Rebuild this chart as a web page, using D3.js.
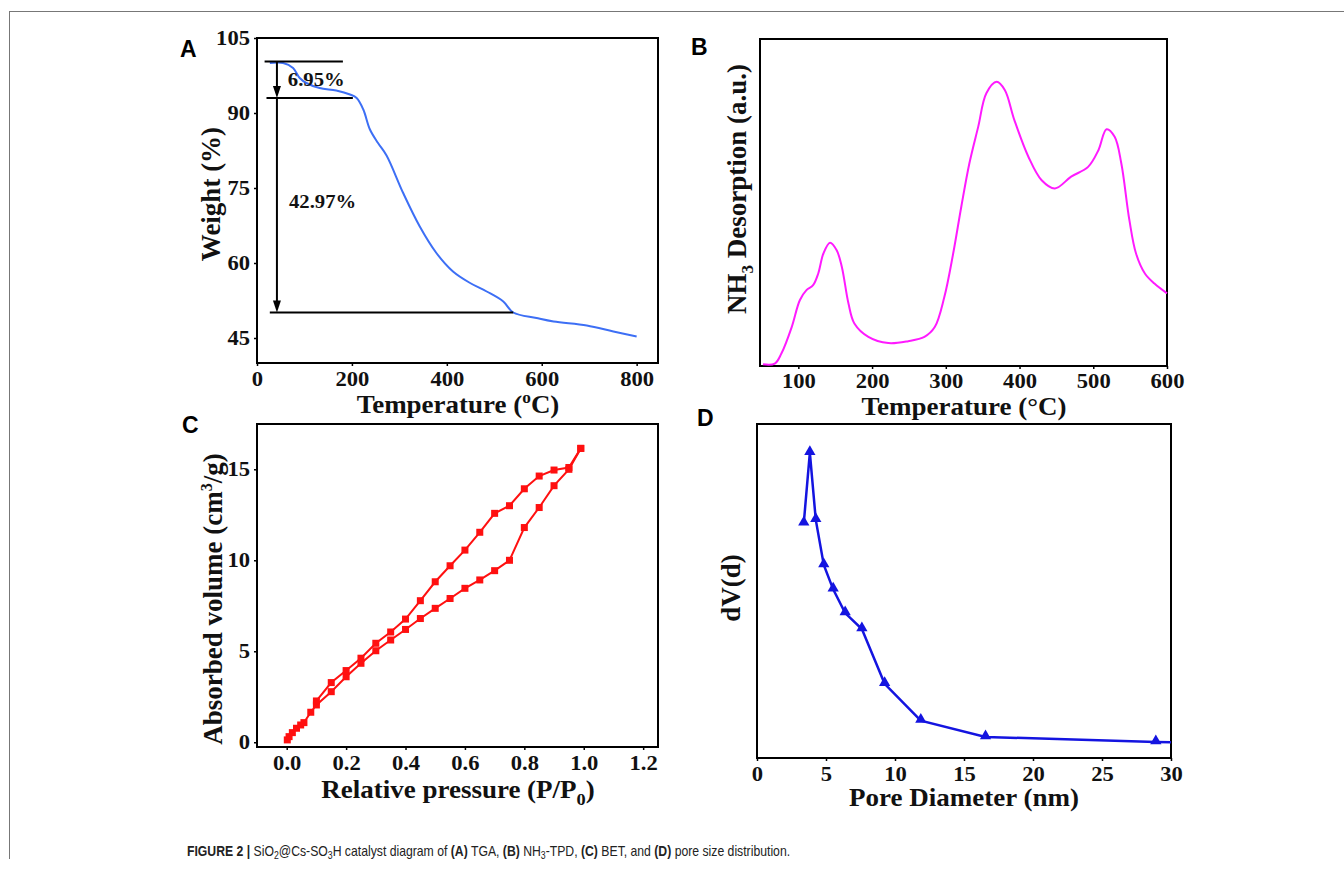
<!DOCTYPE html>
<html><head><meta charset="utf-8">
<script src="https://cdn.jsdelivr.net/npm/d3@7"></script>
<style>body{margin:0;background:#fff;} svg{display:block}</style>
</head><body>
<svg id="c" width="1344" height="878"></svg>
<script>
// ---------- Panel A : TGA ----------
const tgaTemp   = [27, 55, 76, 90, 104, 132, 167, 196, 210, 224, 238, 255, 273, 308, 343, 378, 413, 449, 484, 519, 540, 589, 625, 695, 751, 800];
const tgaWeight = [100, 100, 99, 97, 96, 95, 94.5, 93.7, 93, 90.7, 86.7, 84, 81.5, 74, 67.3, 62, 58.3, 56, 54.3, 52.3, 50.1, 49, 48.3, 47.5, 46.3, 45.3];
const tgaXTicks = [0, 200, 400, 600, 800];
const tgaYTicks = [45, 60, 75, 90, 105];
// annotation levels (weight %) and their temperature spans
const tgaLevels    = [100.3, 93, 50.1];
const tgaLevelFrom = [16, 20, 27];
const tgaLevelTo   = [181, 202, 540];
const tgaArrowT    = 42;
const tgaLabels    = ["6.95%", "42.97%"];
const tgaLabelT    = [65, 67.5];
const tgaLabelW    = [95.3, 71];

// ---------- Panel B : NH3-TPD ----------
const tpdTemp = [52, 68, 77, 91, 102, 111, 120, 127, 134, 143, 152, 159, 168, 176, 195, 222, 249, 271, 285, 298, 310, 321, 332, 344, 355, 369, 380, 393, 412, 430, 448, 470, 493, 507, 518, 529, 538, 549, 558, 570, 583, 600];
const tpdSignal = [0.005, 0.007, 0.038, 0.119, 0.201, 0.232, 0.247, 0.283, 0.344, 0.377, 0.354, 0.303, 0.191, 0.130, 0.089, 0.070, 0.076, 0.089, 0.119, 0.211, 0.344, 0.487, 0.620, 0.732, 0.834, 0.869, 0.844, 0.752, 0.640, 0.568, 0.543, 0.579, 0.609, 0.660, 0.724, 0.701, 0.620, 0.446, 0.344, 0.283, 0.252, 0.222];
const tpdXTicks = [100, 200, 300, 400, 500, 600];

// ---------- Panel C : BET isotherm ----------
const adsP = [0.002, 0.008, 0.019, 0.033, 0.047, 0.058, 0.081, 0.1, 0.15, 0.2, 0.25, 0.3, 0.35, 0.4, 0.45, 0.5, 0.55, 0.6, 0.65, 0.7, 0.75, 0.8, 0.85, 0.9, 0.95, 0.99];
const adsV = [0.13, 0.31, 0.53, 0.77, 0.95, 1.08, 1.65, 2.05, 2.78, 3.6, 4.34, 5.03, 5.62, 6.2, 6.8, 7.36, 7.9, 8.46, 8.92, 9.43, 10.0, 11.8, 12.9, 14.1, 15.0, 16.15];
const desP = [0.99, 0.95, 0.9, 0.85, 0.8, 0.75, 0.7, 0.65, 0.6, 0.55, 0.5, 0.45, 0.4, 0.35, 0.3, 0.25, 0.2, 0.15, 0.1];
const desV = [16.15, 15.1, 14.96, 14.63, 13.93, 13.0, 12.58, 11.54, 10.56, 9.7, 8.82, 7.78, 6.77, 6.06, 5.44, 4.62, 3.94, 3.28, 2.27];
const betXTicks = [0.0, 0.2, 0.4, 0.6, 0.8, 1.0, 1.2];
const betYTicks = [0, 5, 10, 15];

// ---------- Panel D : pore size distribution ----------
const poreD  = [3.39, 3.83, 4.26, 4.84, 5.52, 6.39, 7.6, 9.25, 11.87, 16.56, 28.9, 30.3];
const poreDV = [0.703, 0.914, 0.713, 0.578, 0.505, 0.434, 0.386, 0.222, 0.112, 0.063, 0.048, 0.047];
const poreXTicks = [0, 5, 10, 15, 20, 25, 30];

const SERIF = "'Liberation Serif','Times New Roman',serif";
const SANS = "'Liberation Sans',Arial,sans-serif";
const STRETCH = 1.13;
const svg = d3.select("#c");
svg.append("rect").attr("width", 1344).attr("height", 878).attr("fill", "#fff");
// page frame lines
svg.append("line").attr("x1", 9).attr("x2", 1344).attr("y1", 11.5).attr("y2", 11.5).attr("stroke", "#777").attr("stroke-width", 1);
svg.append("line").attr("x1", 9.5).attr("x2", 9.5).attr("y1", 11).attr("y2", 859).attr("stroke", "#777").attr("stroke-width", 1);

let clipId = 0;
function styleTicks(sel, isY) {
  sel.selectAll(".tick line").attr("stroke", "#000").attr("stroke-width", 1.5);
  sel.selectAll(".tick text").attr("font-family", SERIF).attr("font-weight", "bold")
    .attr("font-size", 20).attr("fill", "#111")
    .each(function() {
      const t = d3.select(this);
      if (isY) t.attr("x", (+t.attr("x")) / STRETCH);
      t.attr("transform", `scale(${STRETCH},1)`);
    });
}
function panel(cfg) {
  const g = svg.append("g");
  const x = d3.scaleLinear().domain(cfg.xd).range([cfg.l, cfg.r]);
  const y = d3.scaleLinear().domain(cfg.yd).range([cfg.b, cfg.t]);
  const id = "clip" + (clipId++);
  g.append("clipPath").attr("id", id).append("rect")
    .attr("x", cfg.l).attr("y", cfg.t).attr("width", cfg.r - cfg.l).attr("height", cfg.b - cfg.t);
  const xa = g.append("g").attr("transform", `translate(0,${cfg.b})`)
    .call(d3.axisBottom(x).tickValues(cfg.xt).tickSize(3).tickPadding(cfg.pad || 6).tickFormat(cfg.xf || d3.format("d")));
  xa.select(".domain").remove();
  styleTicks(xa, false);
  if (cfg.yt) {
    const ya = g.append("g").attr("transform", `translate(${cfg.l},0)`)
      .call(d3.axisLeft(y).tickValues(cfg.yt).tickSize(3).tickPadding(4).tickFormat(d3.format("d")));
    ya.select(".domain").remove();
    styleTicks(ya, true);
  }
  g.append("rect").attr("x", cfg.l).attr("y", cfg.t).attr("width", cfg.r - cfg.l).attr("height", cfg.b - cfg.t)
    .attr("fill", "none").attr("stroke", "#000").attr("stroke-width", 2);
  g.append("text").attr("x", cfg.lx).attr("y", cfg.ly).text(cfg.letter)
    .attr("font-family", SANS).attr("font-weight", "bold").attr("font-size", 23).attr("fill", "#000");
  return {g, x, y, clip: `url(#${id})`};
}

function title(g, xx, yy, parts, rot) {
  const t = g.append("text").attr("font-family", SERIF).attr("font-weight", "bold")
    .attr("font-size", rot ? 27 : 25)
    .attr("fill", "#111").attr("text-anchor", "middle")
    .attr("transform", rot ? `translate(${xx},${yy}) rotate(-90)` : `translate(${xx},${yy}) scale(1.08,1)`);
  parts.forEach(p => {
    const s = t.append("tspan").text(p.t);
    if (p.sub) s.attr("font-size", 17).attr("dy", 7);
    if (p.sup) s.attr("font-size", 16).attr("dy", -10);
    if (p.back) s.attr("dy", p.back);
  });
  return t;
}

// ----- A -----
{
  const P = panel({xd: [0, 845], yd: [40, 105], l: 257, r: 658, t: 38, b: 363, xt: tgaXTicks, yt: tgaYTicks, letter: "A", lx: 180, ly: 57});
  const line = d3.line().x(d => P.x(d[0])).y(d => P.y(d[1])).curve(d3.curveCatmullRom);
  P.g.append("path").datum(tgaTemp.map((t, i) => [t, tgaWeight[i]])).attr("d", line)
    .attr("fill", "none").attr("stroke", "#3d6ff5").attr("stroke-width", 2);
  tgaLevels.forEach((w, i) => {
    P.g.append("line").attr("x1", P.x(tgaLevelFrom[i])).attr("x2", P.x(tgaLevelTo[i]))
      .attr("y1", P.y(w)).attr("y2", P.y(w)).attr("stroke", "#000").attr("stroke-width", 2);
  });
  const ax = P.x(tgaArrowT);
  [[tgaLevels[0], tgaLevels[1]], [tgaLevels[1], tgaLevels[2]]].forEach(([a, b]) => {
    const y0 = P.y(a), y1 = P.y(b);
    P.g.append("line").attr("x1", ax).attr("x2", ax).attr("y1", y0).attr("y2", y1 - 8)
      .attr("stroke", "#000").attr("stroke-width", 2);
    P.g.append("path").attr("d", `M${ax - 4},${y1 - 12} L${ax + 4},${y1 - 12} L${ax},${y1} Z`).attr("fill", "#000");
  });
  tgaLabels.forEach((s, i) => {
    const px = P.x(tgaLabelT[i]);
    P.g.append("text").attr("x", px / 1.15).attr("y", P.y(tgaLabelW[i])).text(s)
      .attr("transform", "scale(1.15,1)")
      .attr("font-family", SERIF).attr("font-weight", "bold").attr("font-size", 18).attr("fill", "#111");
  });
  title(P.g, 458, 413, [{t: "Temperature ("}, {t: "o", sup: true}, {t: "C)", back: 10}]);
  title(P.g, 220, 194, [{t: "Weight (%)"}], true);
}

// ----- B -----
{
  const P = panel({xd: [48, 600], yd: [0, 1], l: 760, r: 1167, t: 39, b: 366, xt: tpdXTicks, pad: 5, letter: "B", lx: 691, ly: 55});
  const line = d3.line().x(d => P.x(d[0])).y(d => P.y(d[1])).curve(d3.curveCatmullRom);
  P.g.append("path").datum(tpdTemp.map((t, i) => [t, tpdSignal[i]])).attr("d", line)
    .attr("fill", "none").attr("stroke", "#ff1aff").attr("stroke-width", 2);
  title(P.g, 964, 415, [{t: "Temperature (°C)"}]);
  title(P.g, 746, 189, [{t: "NH"}, {t: "3", sub: true}, {t: " Desorption (a.u.)", back: -7}], true);
}

// ----- C -----
{
  const P = panel({xd: [-0.1, 1.25], yd: [-0.26, 17.49], l: 257, r: 658, t: 424, b: 747, xt: betXTicks, yt: betYTicks,
                   xf: d3.format(".1f"), letter: "C", lx: 182, ly: 433});
  const line = d3.line().x(d => P.x(d[0])).y(d => P.y(d[1]));
  const ads = adsP.map((p, i) => [p, adsV[i]]);
  const des = desP.map((p, i) => [p, desV[i]]);
  [ads, des].forEach(arr => {
    P.g.append("path").datum(arr).attr("d", line).attr("fill", "none").attr("stroke", "#ff1010").attr("stroke-width", 2);
    P.g.selectAll(null).data(arr).enter().append("rect")
      .attr("x", d => P.x(d[0]) - 3.5).attr("y", d => P.y(d[1]) - 3.5).attr("width", 7).attr("height", 7)
      .attr("fill", "#ff1010");
  });
  title(P.g, 458, 798, [{t: "Relative pressure (P/P"}, {t: "0", sub: true}, {t: ")", back: -7}]);
  title(P.g, 222, 599, [{t: "Absorbed volume (cm"}, {t: "3", sup: true}, {t: "/g)", back: 10}], true);
}

// ----- D -----
{
  const P = panel({xd: [0, 30], yd: [0, 1], l: 757, r: 1171, t: 424, b: 758, xt: poreXTicks, letter: "D", lx: 697, ly: 426});
  const pts = poreD.map((d, i) => [d, poreDV[i]]);
  const line = d3.line().x(d => P.x(d[0])).y(d => P.y(d[1]));
  P.g.append("path").datum(pts).attr("d", line).attr("clip-path", P.clip)
    .attr("fill", "none").attr("stroke", "#1414e0").attr("stroke-width", 2.5);
  const tri = d3.symbol().type(d3.symbolTriangle).size(55);
  P.g.selectAll(null).data(pts.filter(d => d[0] <= 30)).enter().append("path")
    .attr("d", tri).attr("transform", d => `translate(${P.x(d[0])},${P.y(d[1]) - 1})`).attr("fill", "#1414e0");
  title(P.g, 964, 806, [{t: "Pore Diameter (nm)"}]);
  title(P.g, 740, 588, [{t: "dV(d)"}], true);
}

// ----- caption -----
{
  const cap = svg.append("text").attr("font-family", SANS).attr("font-size", 14).attr("fill", "#222");
  const parts = [
    {t: "FIGURE 2 | ", b: true}, {t: "SiO"}, {t: "2", sub: true}, {t: "@Cs-SO", back: true}, {t: "3", sub: true},
    {t: "H catalyst diagram of ", back: true}, {t: "(A)", b: true}, {t: " TGA, "}, {t: "(B)", b: true}, {t: " NH"},
    {t: "3", sub: true}, {t: "-TPD, ", back: true}, {t: "(C)", b: true}, {t: " BET, and "}, {t: "(D)", b: true},
    {t: " pore size distribution."}
  ];
  parts.forEach(p => {
    const s = cap.append("tspan").text(p.t);
    if (p.b) s.attr("font-weight", "bold");
    if (p.sub) s.attr("font-size", 10).attr("dy", 3);
    if (p.back) s.attr("dy", -3);
  });
  const len = cap.node().getComputedTextLength();
  cap.attr("transform", `translate(187,856) scale(${604 / len},1)`);
}
</script>
</body></html>
